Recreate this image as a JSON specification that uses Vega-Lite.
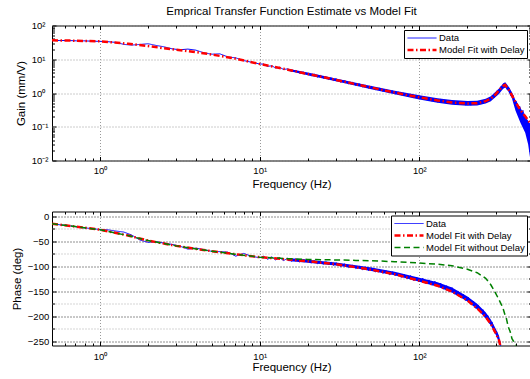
{
  "$schema": "https://vega.github.io/schema/vega-lite/v6.json",
  "background": "white",
  "padding": {"left": 10, "top": 5.5, "right": 1, "bottom": 2},
  "config": {
    "font": "Liberation Sans",
    "view": {"stroke": "black", "strokeWidth": 1},
    "axis": {"domain": false, "grid": false, "tickColor": "black", "tickWidth": 1, "labelFont": "Liberation Sans", "labelFontSize": 9.5, "labelColor": "black", "titleFont": "Liberation Sans", "titleFontSize": 11.5, "titleFontWeight": "normal", "titleColor": "black"},
    "legend": {"symbolType": "stroke", "symbolSize": 841, "labelFontSize": 9.5, "labelFont": "Liberation Sans", "labelColor": "black", "strokeColor": "black", "fillColor": "white", "padding": 2, "rowPadding": 0, "clipHeight": 12, "labelOffset": 1, "symbolOffset": 0, "cornerRadius": 0},
    "title": {"fontSize": 11.5, "fontWeight": "normal", "font": "Liberation Sans", "color": "black"}
  },
  "spacing": 20,
  "resolve": {"scale": {"color": "independent", "strokeDash": "independent", "strokeWidth": "independent"}},
  "datasets": {
    "data": [
      {"f":0.5,"g":36.3,"p":-15.4},{"f":0.56,"g":35.9,"p":-17.5},{"f":0.63,"g":35.9,"p":-19.0},{"f":0.71,"g":35.1,"p":-21.5},{"f":0.79,"g":35.1,"p":-23.5},{"f":0.89,"g":34.3,"p":-25.0},{"f":1.0,"g":33.9,"p":-27.0},{"f":1.12,"g":33.1,"p":-27.5},{"f":1.26,"g":31.6,"p":-30.0},{"f":1.41,"g":27.5,"p":-32.0},{"f":1.58,"g":26.3,"p":-38.0},{"f":1.78,"g":27.5,"p":-48.0},{"f":2.0,"g":28.8,"p":-52.5},{"f":2.24,"g":25.7,"p":-51.0},{"f":2.51,"g":23.4,"p":-54.0},{"f":2.82,"g":20.4,"p":-56.5},{"f":3.16,"g":19.1,"p":-60.0},{"f":3.55,"g":20.0,"p":-66.0},{"f":3.98,"g":18.6,"p":-64.0},{"f":4.47,"g":15.5,"p":-67.0},{"f":5.01,"g":14.1,"p":-70.5},{"f":5.62,"g":14.5,"p":-71.0},{"f":6.31,"g":11.7,"p":-72.0},{"f":7.08,"g":11.0,"p":-80.0},{"f":7.94,"g":9.12,"p":-74.5},{"f":8.91,"g":8.13,"p":-80.5},{"f":10,"g":7.24,"p":-83},
      {"f":10.6,"g":7.18,"p":-80.1},{"f":11.2,"g":6.14,"p":-86.2},{"f":11.9,"g":6.41,"p":-81.4},{"f":12.6,"g":5.47,"p":-87.6},{"f":13.3,"g":5.82,"p":-82.7},{"f":14.1,"g":4.97,"p":-88.8},{"f":15.0,"g":5.19,"p":-84.0},{"f":15.8,"g":4.39,"p":-90.1},{"f":16.8,"g":4.63,"p":-85.4},{"f":17.8,"g":3.90,"p":-91.6},{"f":18.8,"g":4.14,"p":-86.7},{"f":20,"g":3.67,"p":-90},
      {"f":21,"g":3.228,"p":-93.7},{"f":22,"g":3.622,"p":-88.4},{"f":23,"g":2.951,"p":-95.1},{"f":24,"g":3.327,"p":-89.7},{"f":25,"g":2.716,"p":-96.3},{"f":26,"g":3.069,"p":-90.9},{"f":27,"g":2.512,"p":-97.5},{"f":28,"g":2.851,"p":-92.0},{"f":29,"g":2.339,"p":-98.5},{"f":30,"g":2.661,"p":-93},
      {"f":32,"g":2.118,"p":-100.4},{"f":34,"g":2.333,"p":-95.6},{"f":36,"g":1.875,"p":-102.8},{"f":38,"g":2.080,"p":-97.9},{"f":40,"g":1.679,"p":-105},{"f":42,"g":1.875,"p":-100.1},{"f":44,"g":1.521,"p":-107.1},{"f":46,"g":1.706,"p":-101.6},{"f":48,"g":1.390,"p":-109.1},{"f":50,"g":1.567,"p":-103.5},
      {"f":53,"g":1.259,"p":-111.5},{"f":56,"g":1.400,"p":-106},{"f":59,"g":1.130,"p":-114.4},{"f":62,"g":1.265,"p":-108.8},{"f":65,"g":1.028,"p":-117},{"f":68,"g":1.153,"p":-111.2},{"f":71,"g":0.942,"p":-119.5},{"f":74,"g":1.067,"p":-113.5},{"f":77,"g":0.873,"p":-122.5},{"f":80,"g":1.002,"p":-115.8},
      {"f":84,"g":0.796,"p":-125.1},{"f":88,"g":0.916,"p":-118.8},{"f":92,"g":0.731,"p":-128.4},{"f":96,"g":0.843,"p":-121.5},{"f":100,"g":0.668,"p":-131},{"f":105,"g":0.791,"p":-123.8},{"f":110,"g":0.619,"p":-134.5},{"f":115,"g":0.735,"p":-127.2},{"f":120,"g":0.571,"p":-137.9},{"f":125,"g":0.695,"p":-130},{"f":130,"g":0.536,"p":-141},
      {"f":136,"g":0.655,"p":-134},{"f":142,"g":0.506,"p":-145.9},{"f":148,"g":0.619,"p":-138.8},{"f":154,"g":0.480,"p":-150.5},{"f":160,"g":0.589,"p":-142.6},{"f":167,"g":0.461,"p":-156},{"f":174,"g":0.574,"p":-149.3},{"f":181,"g":0.445,"p":-162.4},{"f":188,"g":0.560,"p":-155.5},{"f":195,"g":0.435,"p":-168.5},{"f":202,"g":0.551,"p":-161.6},
      {"f":210,"g":0.435,"p":-175.9},{"f":218,"g":0.557,"p":-169.6},{"f":226,"g":0.441,"p":-184.1},{"f":234,"g":0.573,"p":-177.4},{"f":242,"g":0.468,"p":-193},{"f":250,"g":0.618,"p":-186.6},{"f":259,"g":0.505,"p":-202.4},{"f":268,"g":0.692,"p":-197.8},{"f":277,"g":0.577,"p":-215.1},{"f":286,"g":0.853,"p":-211.6},{"f":295,"g":0.738,"p":-231.5},{"f":305,"g":1.146,"p":-230},{"f":315,"g":1.050,"p":-252.4},{"f":325,"g":1.614,"p":-260},
      {"f":335,"g":1.403,"p":null},{"f":345,"g":1.862,"p":null},{"f":355,"g":1.242,"p":null},{"f":365,"g":1.403,"p":null},{"f":375,"g":0.807,"p":null},{"f":385,"g":0.889,"p":null},{"f":395,"g":0.508,"p":null},{"f":405,"g":0.571,"p":null},{"f":415,"g":0.335,"p":null},{"f":425,"g":0.406,"p":null},{"f":435,"g":0.234,"p":null},{"f":445,"g":0.307,"p":null},{"f":455,"g":0.200,"p":null},{"f":465,"g":0.151,"p":null},{"f":475,"g":0.089,"p":null},{"f":485,"g":0.105,"p":null},{"f":495,"g":0.025,"p":null},{"f":500,"g":0.0089,"p":null}
    ],
    "band": [
      {"f":15,"ghi":5.25,"glo":4.57,"phi":-83.5,"plo":-89.5},
      {"f":20,"ghi":4.03,"glo":3.35,"phi":-87,"plo":-93},
      {"f":30,"ghi":2.69,"glo":2.24,"phi":-92.5,"plo":-98.5},
      {"f":40,"ghi":2.02,"glo":1.64,"phi":-98,"plo":-104},
      {"f":50,"ghi":1.62,"glo":1.29,"phi":-102.5,"plo":-109.5},
      {"f":70,"ghi":1.16,"glo":0.923,"phi":-111,"plo":-118},
      {"f":100,"ghi":0.851,"glo":0.646,"phi":-123,"plo":-131},
      {"f":130,"ghi":0.698,"glo":0.518,"phi":-132,"plo":-141},
      {"f":160,"ghi":0.617,"glo":0.447,"phi":-142.6,"plo":-152.6},
      {"f":200,"ghi":0.577,"glo":0.418,"phi":-160.5,"plo":-170.5},
      {"f":230,"ghi":0.589,"glo":0.427,"phi":-175,"plo":-186},
      {"f":260,"ghi":0.676,"glo":0.490,"phi":-191.5,"plo":-203.5},
      {"f":280,"ghi":0.804,"glo":0.569,"phi":-206,"plo":-218},
      {"f":300,"ghi":1.096,"glo":0.759,"phi":-224,"plo":-236},
      {"f":315,"ghi":1.35,"glo":0.93,"phi":-238,"plo":-250},
      {"f":325,"ghi":1.62,"glo":1.12,"phi":-257,"plo":-269},
      {"f":335,"ghi":1.936,"glo":1.340,"phi":null,"plo":null},
      {"f":345,"ghi":2.089,"glo":1.445,"phi":null,"plo":null},
      {"f":360,"ghi":1.622,"glo":1.122,"phi":null,"plo":null},
      {"f":380,"ghi":1.047,"glo":0.692,"phi":null,"plo":null},
      {"f":400,"ghi":0.60,"glo":0.30,"phi":null,"plo":null},
      {"f":430,"ghi":0.36,"glo":0.13,"phi":null,"plo":null},
      {"f":460,"ghi":0.20,"glo":0.066,"phi":null,"plo":null},
      {"f":480,"ghi":0.15,"glo":0.03,"phi":null,"plo":null},
      {"f":490,"ghi":0.13,"glo":0.015,"phi":null,"plo":null},
      {"f":500,"ghi":0.12,"glo":0.008,"phi":null,"plo":null}
    ],
    "model": [
      {"f":0.5,"g":36.3,"pd":-15.4,"pn":-15.4},{"f":0.7,"g":35.5,"pd":-21,"pn":-21},{"f":1,"g":33.9,"pd":-27.3,"pn":-27.3},{"f":1.5,"g":28.8,"pd":-39,"pn":-39},{"f":2,"g":24.5,"pd":-49,"pn":-49},{"f":3,"g":19.05,"pd":-59.5,"pn":-59.5},{"f":4,"g":16.2,"pd":-65.5,"pn":-65.5},{"f":5,"g":13.8,"pd":-70,"pn":-70},{"f":7,"g":10.5,"pd":-76,"pn":-76},{"f":10,"g":7.24,"pd":-82,"pn":-82},
      {"f":15,"g":4.90,"pd":-86.5,"pn":-85},{"f":20,"g":3.67,"pd":-90,"pn":-86.5},{"f":30,"g":2.45,"pd":-96,"pn":-87.5},{"f":40,"g":1.82,"pd":-102,"pn":-88.5},{"f":50,"g":1.45,"pd":-107,"pn":-89},{"f":70,"g":1.035,"pd":-116,"pn":-91},{"f":100,"g":0.741,"pd":-129,"pn":-93.7},{"f":130,"g":0.603,"pd":-139,"pn":-96},{"f":160,"g":0.525,"pd":-150.6,"pn":-99},{"f":200,"g":0.490,"pd":-168.5,"pn":-106},
      {"f":230,"g":0.501,"pd":-184,"pn":-113},{"f":260,"g":0.575,"pd":-201,"pn":-124},{"f":280,"g":0.676,"pd":-215,"pn":-137},{"f":300,"g":0.912,"pd":-233,"pn":-153.5},{"f":315,"g":1.205,"pd":-247,"pn":-166.8},{"f":320,"g":1.318,"pd":-256,"pn":-171},{"f":325,"g":1.406,"pd":-266,"pn":-175.5},{"f":330,"g":1.53,"pd":null,"pn":-180},{"f":335,"g":1.622,"pd":null,"pn":-185.3},{"f":345,"g":1.738,"pd":null,"pn":-199},
      {"f":350,"g":1.55,"pd":null,"pn":-203},{"f":360,"g":1.349,"pd":null,"pn":-220.7},{"f":370,"g":1.06,"pd":null,"pn":-230},{"f":380,"g":0.851,"pd":null,"pn":-244.4},{"f":390,"g":0.68,"pd":null,"pn":-250},{"f":400,"g":0.537,"pd":null,"pn":-258},{"f":410,"g":0.447,"pd":null,"pn":-270},{"f":430,"g":0.309,"pd":null,"pn":null},{"f":460,"g":0.204,"pd":null,"pn":null},{"f":500,"g":0.120,"pd":null,"pn":null}
    ]
  },
  "vconcat": [
    {
      "width": 479,
      "height": 135,
      "title": {"text": "Emprical Transfer Function Estimate vs Model Fit", "frame": "group", "offset": 3},
      "resolve": {"axis": {"x": "independent", "y": "independent"}},
      "layer": [
        {
          "data": {"name": "band"},
          "mark": {"type": "area", "clip": true, "color": "#0000ff", "opacity": 1},
          "encoding": {
            "x": {"field": "f", "type": "quantitative", "axis": null},
            "y": {"field": "ghi", "type": "quantitative", "axis": null},
            "y2": {"field": "glo"}
          }
        },
        {
          "data": {"name": "data"},
          "mark": {"type": "line", "clip": true, "strokeWidth": 1},
          "encoding": {
            "x": {"field": "f", "type": "quantitative", "scale": {"type": "log", "domain": [0.5, 500], "nice": false},
                  "axis": {"orient": "bottom", "values": [1, 10, 100], "labelExpr": "datum.value == 1 ? '10⁰' : datum.value == 10 ? '10¹' : '10²'", "tickSize": -4, "labelPadding": 9, "grid": true, "gridColor": "#999999", "gridDash": [1, 2], "title": "Frequency (Hz)", "titlePadding": 3}},
            "y": {"field": "g", "type": "quantitative", "scale": {"type": "log", "domain": [0.01, 100], "nice": false},
                  "axis": {"orient": "left", "values": [0.01, 0.1, 1, 10, 100], "labelExpr": "datum.value == 100 ? '10²' : datum.value == 10 ? '10¹' : datum.value == 1 ? '10⁰' : datum.value == 0.1 ? '10⁻¹' : '10⁻²'", "labelAlign": "left", "labelBaseline": "middle", "tickSize": -4, "labelPadding": 24.7, "grid": true, "gridColor": "#999999", "gridDash": [1, 2], "title": "Gain (mm/V)", "titleX": -31, "titleY": 67.5, "titleAlign": "center", "titleBaseline": "middle"}},
            "color": {"datum": "Data", "type": "nominal", "scale": {"domain": ["Data", "Model Fit with Delay"], "range": ["#0000ff", "#ff0000"]},
                      "legend": {"title": null, "orient": "none", "legendX": 352, "legendY": 4.5}},
            "strokeDash": {"datum": "Data", "type": "nominal", "scale": {"domain": ["Data", "Model Fit with Delay"], "range": [[1, 0], [6, 2.5, 1.5, 2.5]]}}
          }
        },
        {
          "data": {"name": "model"},
          "mark": {"type": "line", "clip": true, "strokeWidth": 2.5},
          "encoding": {
            "x": {"field": "f", "type": "quantitative", "axis": {"orient": "bottom", "values": [0.6,0.7,0.8,0.9,2,3,4,5,6,7,8,9,20,30,40,50,60,70,80,90,200,300,400], "labels": false, "tickSize": -2.5, "title": null}},
            "y": {"field": "g", "type": "quantitative", "axis": {"orient": "left", "values": [0.02,0.03,0.04,0.05,0.06,0.07,0.08,0.09,0.2,0.3,0.4,0.5,0.6,0.7,0.8,0.9,2,3,4,5,6,7,8,9,20,30,40,50,60,70,80,90], "labels": false, "tickSize": -2.5, "title": null}},
            "color": {"datum": "Model Fit with Delay", "type": "nominal"},
            "strokeDash": {"datum": "Model Fit with Delay", "type": "nominal"}
          }
        },
        {
          "data": {"name": "model"},
          "mark": {"type": "line", "strokeOpacity": 0},
          "encoding": {
            "x": {"field": "f", "type": "quantitative", "axis": {"orient": "top", "values": [1, 10, 100], "labels": false, "tickSize": -4, "title": null}},
            "y": {"field": "g", "type": "quantitative", "axis": {"orient": "right", "values": [0.01, 0.1, 1, 10, 100], "labels": false, "tickSize": -4, "title": null}},
            "strokeWidth": {"datum": "Data", "type": "nominal", "scale": {"type": "ordinal", "domain": ["Data", "Model Fit with Delay"], "range": [1, 2.5]}}
          }
        },
        {
          "data": {"name": "model"},
          "mark": {"type": "line", "strokeOpacity": 0},
          "encoding": {
            "x": {"field": "f", "type": "quantitative", "axis": {"orient": "top", "values": [0.6,0.7,0.8,0.9,2,3,4,5,6,7,8,9,20,30,40,50,60,70,80,90,200,300,400], "labels": false, "tickSize": -2.5, "title": null}},
            "y": {"field": "g", "type": "quantitative", "axis": {"orient": "right", "values": [0.02,0.03,0.04,0.05,0.06,0.07,0.08,0.09,0.2,0.3,0.4,0.5,0.6,0.7,0.8,0.9,2,3,4,5,6,7,8,9,20,30,40,50,60,70,80,90], "labels": false, "tickSize": -2.5, "title": null}}
          }
        }
      ]
    },
    {
      "width": 479,
      "height": 134,
      "resolve": {"axis": {"x": "independent", "y": "independent"}},
      "layer": [
        {
          "data": {"name": "band"},
          "mark": {"type": "area", "clip": true, "color": "#0000ff", "opacity": 1},
          "encoding": {
            "x": {"field": "f", "type": "quantitative", "axis": null},
            "y": {"field": "phi", "type": "quantitative", "axis": null},
            "y2": {"field": "plo"}
          }
        },
        {
          "data": {"name": "data"},
          "mark": {"type": "line", "clip": true, "strokeWidth": 1},
          "encoding": {
            "x": {"field": "f", "type": "quantitative", "scale": {"type": "log", "domain": [0.5, 500], "nice": false},
                  "axis": {"orient": "bottom", "values": [1, 10, 100], "labelExpr": "datum.value == 1 ? '10⁰' : datum.value == 10 ? '10¹' : '10²'", "tickSize": -4, "labelPadding": 10, "grid": true, "gridColor": "#999999", "gridDash": [1, 2], "title": "Frequency (Hz)", "titlePadding": 0.5}},
            "y": {"field": "p", "type": "quantitative", "scale": {"domain": [-258, 9], "nice": false, "zero": false},
                  "axis": {"orient": "left", "values": [-250, -200, -150, -100, -50, 0], "tickSize": -4, "labelPadding": 7.3, "labelBaseline": "middle", "grid": true, "gridColor": "#222222", "gridDash": [1, 2], "title": "Phase (deg)", "titleX": -34.7, "titleY": 67, "titleAlign": "center", "titleBaseline": "middle"}},
            "color": {"datum": "Data", "type": "nominal", "scale": {"domain": ["Data", "Model Fit with Delay", "Model Fit without Delay"], "range": ["#0000ff", "#ff0000", "#008000"]},
                      "legend": {"title": null, "orient": "none", "legendX": 339, "legendY": 4}},
            "strokeDash": {"datum": "Data", "type": "nominal", "scale": {"domain": ["Data", "Model Fit with Delay", "Model Fit without Delay"], "range": [[1, 0], [6, 2.5, 1.5, 2.5], [6, 3.5]]}}
          }
        },
        {
          "data": {"name": "model"},
          "mark": {"type": "line", "clip": true, "strokeWidth": 2.5},
          "encoding": {
            "x": {"field": "f", "type": "quantitative", "axis": {"orient": "bottom", "values": [0.6,0.7,0.8,0.9,2,3,4,5,6,7,8,9,20,30,40,50,60,70,80,90,200,300,400], "labels": false, "tickSize": -2.5, "title": null}},
            "y": {"field": "pd", "type": "quantitative", "axis": {"orient": "left", "values": [-225, -175, -125, -75, -25], "labels": false, "tickSize": -2.5, "title": null, "grid": true, "gridColor": "#aaaaaa", "gridDash": [1, 2]}},
            "color": {"datum": "Model Fit with Delay", "type": "nominal"},
            "strokeDash": {"datum": "Model Fit with Delay", "type": "nominal"}
          }
        },
        {
          "data": {"name": "model"},
          "mark": {"type": "line", "clip": true, "strokeWidth": 1.5},
          "encoding": {
            "x": {"field": "f", "type": "quantitative", "axis": {"orient": "top", "values": [1, 10, 100], "labels": false, "tickSize": -4, "title": null}},
            "y": {"field": "pn", "type": "quantitative", "axis": {"orient": "right", "values": [-250, -200, -150, -100, -50, 0], "labels": false, "tickSize": -4, "title": null}},
            "color": {"datum": "Model Fit without Delay", "type": "nominal"},
            "strokeDash": {"datum": "Model Fit without Delay", "type": "nominal"}
          }
        },
        {
          "data": {"name": "model"},
          "mark": {"type": "line", "strokeOpacity": 0},
          "encoding": {
            "x": {"field": "f", "type": "quantitative", "axis": {"orient": "top", "values": [0.6,0.7,0.8,0.9,2,3,4,5,6,7,8,9,20,30,40,50,60,70,80,90,200,300,400], "labels": false, "tickSize": -2.5, "title": null}},
            "y": {"field": "pd", "type": "quantitative", "axis": {"orient": "right", "values": [-225, -175, -125, -75, -25], "labels": false, "tickSize": -2.5, "title": null}},
            "strokeWidth": {"datum": "Data", "type": "nominal", "scale": {"type": "ordinal", "domain": ["Data", "Model Fit with Delay", "Model Fit without Delay"], "range": [1, 2.5, 1.5]}}
          }
        }
      ]
    }
  ]
}
